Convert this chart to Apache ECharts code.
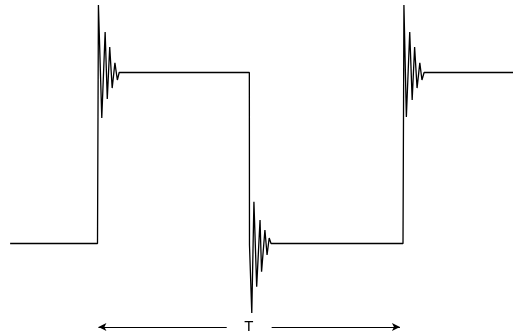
<!DOCTYPE html>
<html>
<head>
<meta charset="utf-8">
<script src="https://cdn.jsdelivr.net/npm/echarts@6/dist/echarts.min.js"></script>
<style>html,body{margin:0;padding:0;background:#fff}#c{width:514px;height:336px}</style>
</head>
<body>
<div id="c"></div>
<script>
// time in µs (period T = 10), signal level (low 0, high 10)
var time = [-2.86, 0.0, 0.03, 0.14, 0.25, 0.32, 0.40, 0.48, 0.57, 0.65, 0.71,
            4.97, 4.975, 5.05, 5.12, 5.21, 5.32, 5.37, 5.48, 5.55, 5.62, 5.68,
            10.0, 10.03, 10.11, 10.22, 10.30, 10.38, 10.46, 10.55, 10.62, 10.69, 13.6];
var signal = [0, 0, 13.95, 7.34, 12.37, 8.45, 11.49, 9.09, 10.56, 9.56, 10,
              10, -0.1, -4.06, 2.44, -2.53, 1.37, -1.65, 0.79, -0.67, 0.32, 0,
              0, 13.95, 7.40, 12.37, 8.39, 11.49, 9.09, 10.56, 9.56, 10, 10];
var periodStart = 0.03, periodEnd = 9.90, arrowLevel = -4.88;
var gapStart = 4.23, gapEnd = 5.70, labelPos = 4.95;
var periodLabel = 'T';

var pts = time.map(function (t, i) { return [t, signal[i]]; });

var chart = echarts.init(document.getElementById('c'));
chart.setOption({
  animation: false,
  grid: {left: 0, right: 0, top: 0, bottom: 0},
  xAxis: {type: 'value', min: -3.1915, max: 13.633, show: false},
  yAxis: {type: 'value', min: -5.41, max: 14.24, show: false},
  series: [
    {
      type: 'line', data: pts, symbol: 'none',
      lineStyle: {color: '#000', width: 1.3}
    },
    {
      type: 'line', data: [], symbol: 'none',
      markLine: {
        silent: true,
        symbolSize: [6, 8],
        lineStyle: {color: '#000', width: 1, type: 'solid'},
        label: {show: false},
        data: [
          [{coord: [gapStart, arrowLevel], symbol: 'none'}, {coord: [periodStart, arrowLevel], symbol: 'arrow'}],
          [{coord: [gapEnd, arrowLevel], symbol: 'none'}, {coord: [periodEnd, arrowLevel], symbol: 'arrow'}]
        ]
      },
      markPoint: {
        silent: true,
        symbol: 'circle', symbolSize: 0,
        label: {show: true, position: 'inside', formatter: periodLabel, color: '#000',
                fontSize: 15, fontFamily: 'Liberation Sans, Arial, sans-serif'},
        data: [{coord: [labelPos, arrowLevel], value: periodLabel}]
      }
    }
  ]
});
</script>
</body>
</html>
